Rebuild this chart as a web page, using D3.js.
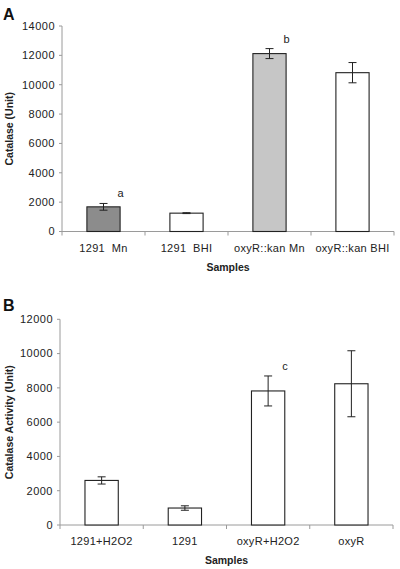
<!DOCTYPE html>
<html><head><meta charset="utf-8">
<script src="https://cdn.jsdelivr.net/npm/d3@7"></script>
<style>body{margin:0;background:#fff}svg{display:block}</style>
</head><body>
<svg id="c" width="400" height="569"></svg>
<script>
const catsA = ["1291  Mn", "1291  BHI", "oxyR::kan Mn", "oxyR::kan BHI"];
const valsA = [1680, 1250, 12120, 10820];
const errA = [230, 30, 340, 690];
const fillsA = ["#8c8c8c", "#ffffff", "#c6c6c6", "#ffffff"];
const notesA = ["a", "", "b", ""];
const ticksA = [0, 2000, 4000, 6000, 8000, 10000, 12000, 14000];

const catsB = ["1291+H2O2", "1291", "oxyR+H2O2", "oxyR"];
const valsB = [2600, 990, 7820, 8240];
const errB = [210, 130, 875, 1925];
const fillsB = ["#ffffff", "#ffffff", "#ffffff", "#ffffff"];
const notesB = ["", "", "c", ""];
const ticksB = [0, 2000, 4000, 6000, 8000, 10000, 12000];

const svg = d3.select("#c");
const font = "Arial, 'Liberation Sans', sans-serif";

function panel(o) {
  const g = svg.append("g");
  const x = d3.scaleBand().domain(o.cats).range([o.x0, o.x1]).paddingInner(0).paddingOuter(0);
  const y = d3.scaleLinear().domain([0, o.ymax]).range([o.yb, o.yt]);
  const bw = x.bandwidth() * 0.4;
  g.append("line").attr("x1", o.x0).attr("x2", o.x0).attr("y1", y(0)).attr("y2", y(o.ymax)).attr("stroke", "#9a9a9a");
  g.selectAll(".yt").data(o.ticks).enter().append("line")
    .attr("x1", o.x0 - 3).attr("x2", o.x0).attr("y1", d => y(d)).attr("y2", d => y(d)).attr("stroke", "#9a9a9a");
  g.selectAll(".yl").data(o.ticks).enter().append("text")
    .attr("x", o.x0 - 7).attr("y", d => y(d)).attr("dy", "0.35em").attr("text-anchor", "end")
    .attr("font-family", font).attr("font-size", 11).attr("letter-spacing", 0.5).attr("fill", "#222").text(d => d);
  g.append("line").attr("x1", o.x0).attr("x2", o.x1).attr("y1", y(0)).attr("y2", y(0)).attr("stroke", "#9a9a9a");
  const bounds = o.cats.map(c => x(c)).concat([o.x1]);
  g.selectAll(".xt").data(bounds).enter().append("line")
    .attr("x1", d => d).attr("x2", d => d).attr("y1", y(0)).attr("y2", y(0) + 4).attr("stroke", "#9a9a9a");
  g.selectAll(".xl").data(o.cats).enter().append("text")
    .attr("x", d => x(d) + x.bandwidth() / 2).attr("y", y(0) + 20).attr("text-anchor", "middle")
    .attr("font-family", font).attr("font-size", 11).attr("letter-spacing", 0.3).attr("fill", "#222")
    .attr("xml:space", "preserve").style("white-space", "pre").text(d => d);
  g.selectAll(".bar").data(o.cats).enter().append("rect")
    .attr("x", d => x(d) + x.bandwidth() / 2 - bw / 2).attr("width", bw)
    .attr("y", (d, i) => y(o.vals[i])).attr("height", (d, i) => y(0) - y(o.vals[i]))
    .attr("fill", (d, i) => o.fills[i]).attr("stroke", "#222").attr("stroke-width", 1.1);
  const eb = g.selectAll(".eb").data(o.cats).enter().append("g");
  eb.append("line").attr("x1", d => x(d) + x.bandwidth() / 2).attr("x2", d => x(d) + x.bandwidth() / 2)
    .attr("y1", (d, i) => y(o.vals[i] + o.err[i])).attr("y2", (d, i) => y(o.vals[i] - o.err[i])).attr("stroke", "#222");
  [1, -1].forEach(s => {
    eb.append("line").attr("x1", d => x(d) + x.bandwidth() / 2 - 4).attr("x2", d => x(d) + x.bandwidth() / 2 + 4)
      .attr("y1", (d, i) => y(o.vals[i] + s * o.err[i])).attr("y2", (d, i) => y(o.vals[i] + s * o.err[i])).attr("stroke", "#222");
  });
  g.selectAll(".note").data(o.cats).enter().append("text")
    .attr("x", d => x(d) + x.bandwidth() / 2 + 14).attr("y", (d, i) => y(o.vals[i] + o.err[i]) - 6)
    .attr("font-family", font).attr("font-size", 11).attr("fill", "#222").text((d, i) => o.notes[i]);
  g.append("text").attr("transform", `translate(${o.ylx},${(y(0) + y(o.ymax)) / 2}) rotate(-90)`)
    .attr("text-anchor", "middle").attr("font-family", font).attr("font-size", 10.5).attr("font-weight", "bold")
    .attr("fill", "#222").text(o.ylabel);
  g.append("text").attr("x", (o.x0 + o.x1) / 2).attr("y", o.xly).attr("text-anchor", "middle")
    .attr("font-family", font).attr("font-size", 10.5).attr("font-weight", "bold").attr("fill", "#222").text("Samples");
  g.append("text").attr("x", 3).attr("y", o.lety).attr("font-family", font).attr("font-size", 16)
    .attr("font-weight", "bold").attr("fill", "#111").text(o.letter);
}

panel({cats: catsA, vals: valsA, err: errA, fills: fillsA, notes: notesA, ticks: ticksA, ymax: 14000,
  x0: 62, x1: 394, yb: 231.5, yt: 26, ylx: 13, xly: 271, lety: 20, letter: "A", ylabel: "Catalase (Unit)"});
panel({cats: catsB, vals: valsB, err: errB, fills: fillsB, notes: notesB, ticks: ticksB, ymax: 12000,
  x0: 60, x1: 393, yb: 525, yt: 319.3, ylx: 13, xly: 564, lety: 311, letter: "B", ylabel: "Catalase Activity (Unit)"});
</script>
</body></html>
